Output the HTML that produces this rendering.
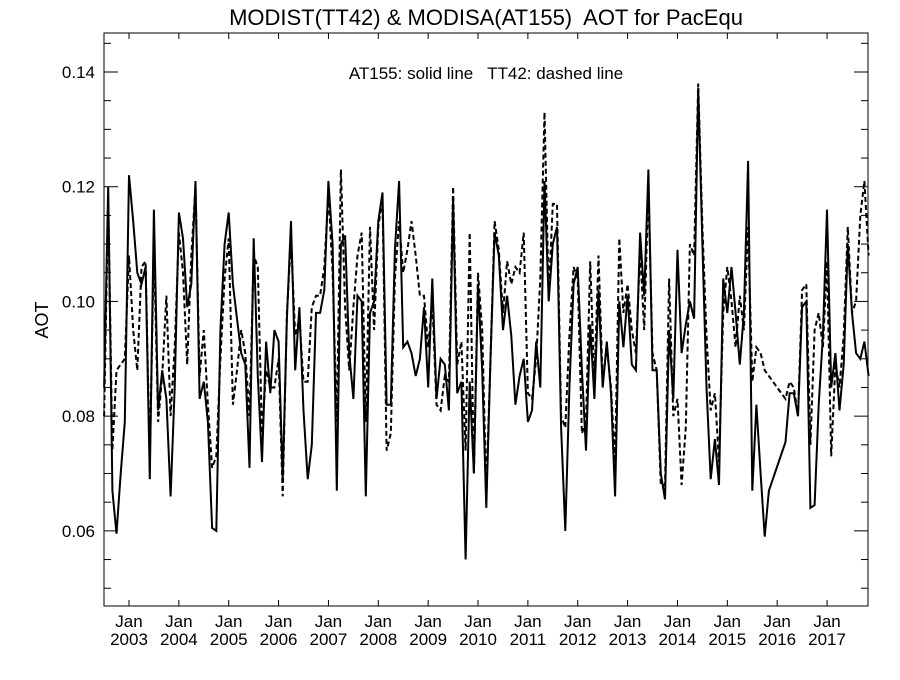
<!DOCTYPE html>
<html><head><meta charset="utf-8"><style>
body{margin:0;background:#fff;}
svg text{font-family:"Liberation Sans",sans-serif;fill:#000;white-space:pre;}
</style></head><body>
<svg id="chart" width="900" height="675" xmlns="http://www.w3.org/2000/svg" xml:space="preserve">
<text x="486" y="25" font-size="22" text-anchor="middle">MODIST(TT42) &amp; MODISA(AT155)  AOT for PacEqu</text>
<text x="486" y="79" font-size="17" text-anchor="middle">AT155: solid line   TT42: dashed line</text>
<text x="48" y="320" font-size="18" text-anchor="middle" transform="rotate(-90 48 320)">AOT</text>
<g id="axes"></g>
<g id="series"></g>
</svg>
<script>
const startYear = 2002, startMonth = 7;
const tickValues = [0.06, 0.08, 0.10, 0.12, 0.14];
const tickLabels = ["0.06", "0.08", "0.10", "0.12", "0.14"];
const yearLabels = ["2003","2004","2005","2006","2007","2008","2009","2010","2011","2012","2013","2014","2015","2016","2017"];
const solidAT155 = [
0.085,0.120,0.067,0.0595,0.070,0.079,
0.122,0.114,0.105,0.103,0.106,0.069,0.116,0.081,0.088,0.083,0.066,0.085,
0.1155,0.111,0.099,0.103,0.121,0.083,0.086,0.079,0.0605,0.060,0.095,0.110,
0.1155,0.103,0.097,0.091,0.089,0.071,0.111,0.087,0.072,0.093,0.084,0.095,
0.093,0.069,0.097,0.114,0.088,0.099,0.081,0.069,0.075,0.098,0.098,0.102,
0.121,0.110,0.067,0.110,0.1115,0.091,0.083,0.101,0.100,0.066,0.098,0.100,
0.114,0.119,0.082,0.082,0.109,0.121,0.092,0.093,0.091,0.087,0.090,0.099,
0.085,0.104,0.083,0.090,0.089,0.081,0.118,0.084,0.086,0.055,0.086,0.070,
0.103,0.088,0.064,0.090,0.112,0.108,0.095,0.101,0.094,0.082,0.087,0.090,
0.079,0.081,0.093,0.085,0.121,0.100,0.110,0.113,0.078,0.060,0.085,0.103,
0.106,0.088,0.074,0.096,0.083,0.102,0.085,0.093,0.084,0.066,0.100,0.092,
0.101,0.089,0.088,0.112,0.101,0.123,0.088,0.088,0.070,0.0655,0.095,0.083,
0.109,0.091,0.096,0.100,0.097,0.137,0.110,0.085,0.069,0.076,0.068,0.104,
0.098,0.106,0.098,0.089,0.098,0.1245,0.067,0.082,0.070,0.059,0.067,null,
null,null,0.0755,0.084,0.084,0.080,0.099,0.100,0.064,0.0645,0.082,0.094,
0.116,0.085,0.091,0.081,0.089,0.110,0.098,0.091,0.090,0.093,0.087];
const dashedTT42 = [
0.080,0.118,0.074,0.088,0.089,0.090,
0.108,0.095,0.088,0.106,0.107,0.072,0.110,0.079,0.087,0.101,0.080,0.092,
0.112,0.105,0.089,0.108,0.120,0.087,0.095,0.082,0.071,0.073,0.090,0.104,
0.111,0.082,0.088,0.095,0.091,0.080,0.108,0.106,0.077,0.088,0.085,0.085,
0.090,0.066,0.098,0.111,0.094,0.097,0.086,0.086,0.099,0.101,0.101,0.106,
0.119,0.105,0.079,0.123,0.099,0.088,0.099,0.108,0.112,0.079,0.113,0.095,
0.113,0.118,0.074,0.077,0.104,0.114,0.105,0.109,0.114,0.108,0.101,0.101,
0.092,0.100,0.082,0.081,0.087,0.086,0.120,0.089,0.093,0.074,0.112,0.070,
0.105,0.095,0.067,0.090,0.114,0.109,0.098,0.107,0.103,0.106,0.105,0.112,
0.084,0.083,0.090,0.104,0.133,0.101,0.117,0.117,0.080,0.078,0.094,0.106,
0.104,0.077,0.079,0.107,0.086,0.108,0.086,0.092,0.085,0.072,0.111,0.098,
0.103,0.095,0.091,0.109,0.095,0.120,0.091,0.088,0.068,0.068,0.104,0.080,
0.083,0.068,0.078,0.110,0.108,0.138,0.113,0.094,0.081,0.084,0.072,0.098,
0.106,0.100,0.092,0.101,0.095,0.113,0.086,0.092,0.091,0.088,0.087,0.086,
0.085,0.084,0.083,0.086,0.085,0.080,0.102,0.103,0.075,0.095,0.098,0.092,
0.107,0.073,0.089,0.085,0.094,0.113,0.098,0.100,0.115,0.121,0.108];

const L=104,R=868,T=33,B=606;
const yMin=0.0469,yMax=0.1468;
const monthPx=4.155, jan2003X=129;
function xOf(i){ return jan2003X + (i - (12 - startMonth + 1)) * monthPx; }
function yOf(v){ return B - (v - yMin)/(yMax - yMin)*(B-T); }
const NS="http://www.w3.org/2000/svg";
const axes=document.getElementById('axes'), series=document.getElementById('series');
function mk(tag,attrs,parent){const e=document.createElementNS(NS,tag);for(const k in attrs)e.setAttribute(k,attrs[k]);parent.appendChild(e);return e;}

const frame=mk('rect',{x:L,y:T,width:R-L,height:B-T,fill:'none',stroke:'#000','stroke-width':1},axes);


for(let v=0.05; v<=0.1451; v+=0.005){
  const y=yOf(v); const major=Math.abs(Math.round(v*100)/100-v)<1e-6 && Math.round(v*100)%2===0;
  const len=major?14:7;
  const t1=mk('line',{x1:L,x2:L+len,y1:y,y2:y,stroke:'#000'},axes);
  
  
  const t2=mk('line',{x1:R,x2:R-len,y1:y,y2:y,stroke:'#000'},axes);
  
  
}
tickValues.forEach((v,i)=>{
  const t=mk('text',{x:L-9,y:yOf(v)+6,'font-size':17,'text-anchor':'end'},axes);
  t.textContent=tickLabels[i];
  
  
});
yearLabels.forEach((yl,k)=>{
  const x=jan2003X+k*12*monthPx;
  const a=mk('line',{x1:x,x2:x,y1:B,y2:B-6,stroke:'#000'},axes);
  
  
  const b=mk('line',{x1:x,x2:x,y1:T,y2:T+6,stroke:'#000'},axes);
  
  
  const j=mk('text',{x:x,y:627,'font-size':17,'text-anchor':'middle'},axes);
  j.textContent='Jan';
  
  
  const yr=mk('text',{x:x,y:645,'font-size':17,'text-anchor':'middle'},axes);
  yr.textContent=yl;
  
  
});
function pathFor(arr){
  let d='';arr.forEach((v,i)=>{if(v===null)return;d+=(d?'L':'M')+xOf(i).toFixed(1)+','+yOf(v).toFixed(1);});return d;
}
const dl=mk('path',{d:pathFor(dashedTT42),fill:'none',stroke:'#000','stroke-width':2,'stroke-dasharray':'5,3'},series);


const sl=mk('path',{d:pathFor(solidAT155),fill:'none',stroke:'#000','stroke-width':2},series);


</script>
</body></html>
